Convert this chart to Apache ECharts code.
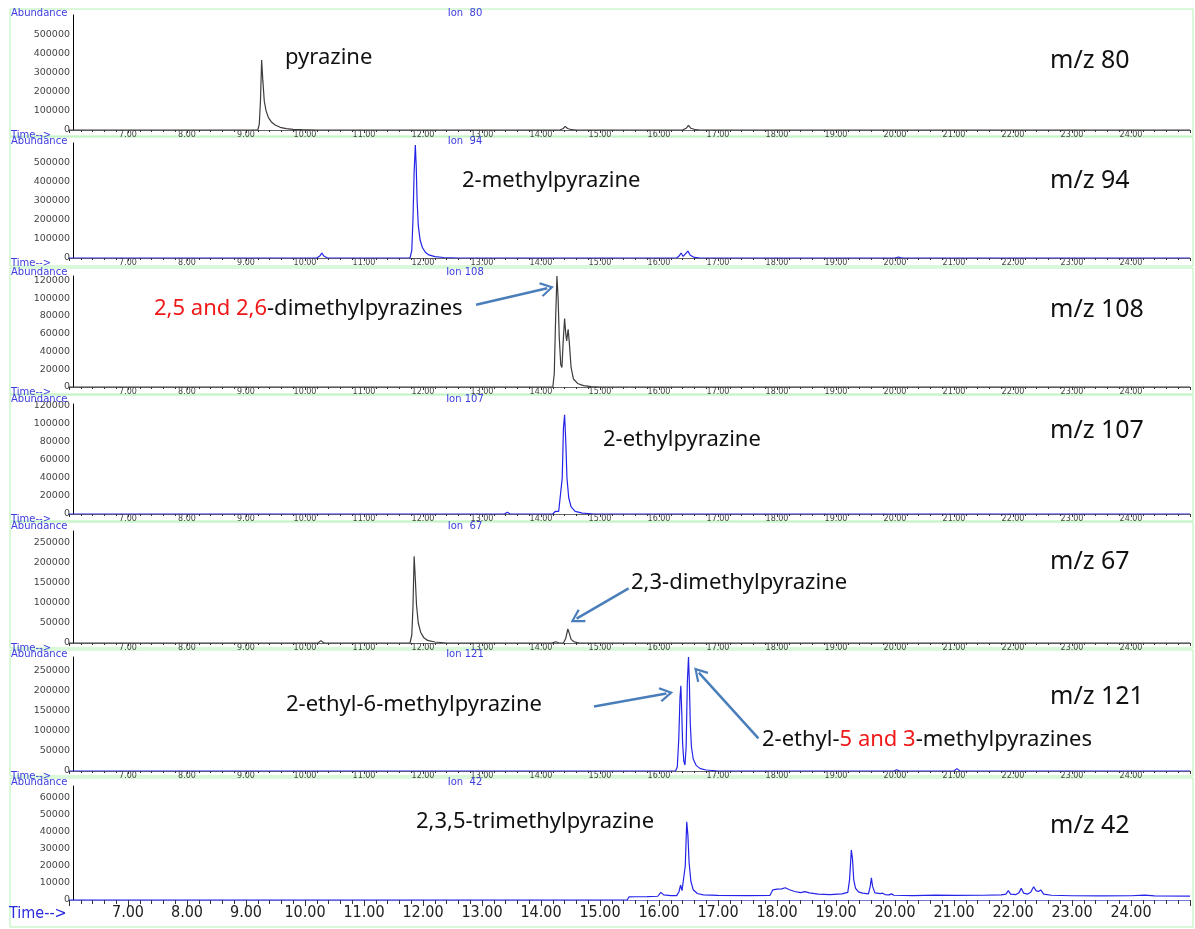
<!DOCTYPE html>
<html><head><meta charset="utf-8">
<script src="https://cdn.jsdelivr.net/npm/echarts@6/dist/echarts.min.js"></script>
<style>html,body{margin:0;padding:0;background:#fff}#c{width:1195px;height:929px}</style>
</head><body><div id="c"></div>
<script>
// ---------------- data ----------------
const ionLabels = ['Ion  80', 'Ion  94', 'Ion 108', 'Ion 107', 'Ion  67', 'Ion 121', 'Ion  42'];
const mzLabels = ['m/z 80', 'm/z 94', 'm/z 108', 'm/z 107', 'm/z 67', 'm/z 121', 'm/z 42'];
const yMax = [600000, 600000, 125000, 122000, 280000, 285000, 67000];
const yStep = [100000, 100000, 20000, 20000, 50000, 50000, 10000];
const timeMin = 6, timeMax = 25, timeStep = 1;

const ion80 = [[6,0],[9.20,0],[9.225,30000],[9.245,150000],[9.265,365000],[9.285,260000],[9.31,150000],[9.34,100000],[9.38,65000],[9.43,42000],[9.50,25000],[9.58,14000],[9.68,7000],[9.80,3500],[9.95,1500],[10.2,0],
  [14.32,0],[14.38,8000],[14.41,19000],[14.45,8000],[14.52,1500],[14.6,0],
  [16.40,0],[16.46,9000],[16.50,24000],[16.54,9000],[16.62,1500],[16.7,0],[25,0]];
const ion94 = [[6,0],[10.20,0],[10.25,10000],[10.285,26000],[10.32,10000],[10.38,0],
  [11.78,0],[11.81,40000],[11.83,200000],[11.85,450000],[11.87,590000],[11.885,480000],[11.90,300000],[11.92,170000],[11.95,95000],[11.99,55000],[12.04,30000],[12.10,16000],[12.2,7000],[12.35,2500],[12.6,0],
  [16.30,0],[16.345,12000],[16.375,26000],[16.41,8000],[16.44,12000],[16.49,36000],[16.53,14000],[16.6,3000],[16.7,0],
  [20.0,0],[20.06,5000],[20.12,0],[25,0]];
const ion108 = [[6,0],[14.20,0],[14.225,15000],[14.245,70000],[14.27,125000],[14.29,100000],[14.31,55000],[14.335,25000],[14.355,22000],[14.375,50000],[14.40,77000],[14.42,60000],[14.435,52000],[14.46,65000],[14.48,50000],[14.51,22000],[14.55,9000],[14.62,4000],[14.72,1500],[14.85,500],[15.0,0],[25,0]];
const ion107 = [[6,0],[13.38,0],[13.43,2000],[13.48,0],[14.20,0],[14.245,3000],[14.27,5200],[14.30,3000],[14.33,4000],[14.36,40000],[14.38,95000],[14.40,110000],[14.42,80000],[14.44,40000],[14.47,18000],[14.51,8000],[14.58,3000],[14.7,1000],[14.9,0],[25,0]];
const ion67 = [[6,0],[10.22,0],[10.27,6000],[10.32,0],
  [11.78,0],[11.81,20000],[11.83,90000],[11.85,217000],[11.87,160000],[11.89,95000],[11.92,50000],[11.96,27000],[12.01,14000],[12.08,6500],[12.2,2500],[12.4,0],
  [14.18,0],[14.25,3000],[14.31,0],[14.38,0],[14.42,12000],[14.455,35000],[14.48,24000],[14.51,9000],[14.56,3000],[14.65,0],[25,0]];
const ion121 = [[6,0],[16.28,0],[16.31,10000],[16.335,80000],[16.355,180000],[16.37,213000],[16.385,150000],[16.40,70000],[16.42,25000],[16.44,15000],[16.46,60000],[16.48,220000],[16.50,285000],[16.515,220000],[16.53,120000],[16.55,60000],[16.58,30000],[16.63,14000],[16.7,6000],[16.8,2500],[17.0,0],
  [19.98,0],[20.03,3000],[20.08,0],[21.0,0],[21.05,6000],[21.1,0],[25,0]];
const ion42 = [[6,0],[15.46,0],[15.49,1800],[15.6,1900],[15.8,2000],[15.98,2200],[16.03,4500],[16.08,3000],[16.2,2600],[16.3,2600],[16.34,5000],[16.365,8800],[16.39,5500],[16.42,4500],[16.445,20000],[16.47,46000],[16.49,38000],[16.51,22000],[16.54,11000],[16.58,6000],[16.65,3800],[16.75,3000],[17.0,2700],[17.5,2600],[17.88,2700],[17.93,6000],[18.0,6400],[18.08,6500],[18.14,7200],[18.2,6200],[18.3,5000],[18.4,4300],[18.47,4900],[18.55,4200],[18.7,3500],[18.9,3200],[19.1,3600],[19.2,4500],[19.23,12000],[19.26,29400],[19.28,24000],[19.30,12000],[19.33,7000],[19.38,4800],[19.45,4000],[19.55,3600],[19.58,8000],[19.60,13100],[19.62,8000],[19.66,4200],[19.75,3800],[19.79,4000],[19.83,3200],[19.90,3000],[19.94,3600],[19.98,2800],[20.3,2600],[20.7,2900],[21.0,2700],[21.5,2800],[21.8,3000],[21.88,3500],[21.92,5500],[21.96,3500],[22.05,3200],[22.1,4200],[22.14,6900],[22.18,4000],[22.25,3500],[22.3,4500],[22.35,7800],[22.39,5500],[22.43,5000],[22.47,5900],[22.52,3500],[22.65,2800],[23.0,2500],[23.5,2400],[24.0,2500],[24.23,2900],[24.4,2400],[25.0,2300]];

const traces = [ion80, ion94, ion108, ion107, ion67, ion121, ion42];
const traceColors = ['#3c3c3c', '#2424e8', '#3c3c3c', '#2424e8', '#3c3c3c', '#2424e8', '#2424e8'];

// annotation arrows, in data coordinates of their panel
const arrows = [
  {panel: 2, from: [12.90, 92600], to: [14.105, 111160]},
  {panel: 4, from: [15.485, 136750], to: [14.603, 60750]},
  {panel: 5, from: [14.898, 161250], to: [16.125, 193500]},
  {panel: 5, from: [17.685, 81750], to: [16.675, 245750]}
];

// compound labels
const compoundTexts = [
  {text: '{k|pyrazine}', x: 285, y: 58},
  {text: '{k|2-methylpyrazine}', x: 462, y: 181},
  {text: '{r|2,5 and 2,6}{k|-dimethylpyrazines}', x: 154, y: 309},
  {text: '{k|2-ethylpyrazine}', x: 603, y: 440},
  {text: '{k|2,3-dimethylpyrazine}', x: 631, y: 583},
  {text: '{k|2-ethyl-6-methylpyrazine}', x: 286, y: 705},
  {text: '{k|2-ethyl-}{r|5 and 3}{k|-methylpyrazines}', x: 762, y: 740},
  {text: '{k|2,3,5-trimethylpyrazine}', x: 416, y: 822}
];

// ---------------- layout ----------------
const gridTop = [15, 143, 276, 404, 531, 657, 786];
const gridZero = [130, 258, 387, 514, 643, 771, 900];
const frameTop = [9, 137, 268, 395, 522, 650, 778];
const frameBottom = [136, 266, 394, 521, 648, 776, 927];
const mzY = [61, 181, 310, 431, 562, 697, 826];
const gridLeft = 69, gridWidth = 1121;

const chevron = 'path://M10,0 L20,15 L17.6,16.6 L10,5 L2.4,16.6 L0,15 Z';
const small = 'DejaVu Sans';
const narrow = '"Liberation Sans Narrow", "DejaVu Sans Condensed", sans-serif';

const grids = [], xAxes = [], yAxes = [], series = [], graphics = [];
for (let i = 0; i < 7; i++) {
  const last = i === 6;
  grids.push({left: gridLeft, width: gridWidth, top: gridTop[i], height: gridZero[i] - gridTop[i]});
  xAxes.push({
    type: 'value', gridIndex: i, min: timeMin, max: timeMax, interval: timeStep,
    axisLine: {show: true, onZero: false, lineStyle: {color: last ? '#7a7ad8' : '#666', width: 1}},
    axisTick: {show: true, length: last ? 6 : 3, lineStyle: {color: '#333'}},
    minorTick: {show: true, splitNumber: 5, length: last ? 4 : 2, lineStyle: {color: '#333'}},
    splitLine: {show: false},
    axisLabel: {
      show: true, showMinLabel: false, showMaxLabel: false,
      formatter: v => v.toFixed(2),
      fontFamily: last ? narrow : small, fontSize: last ? 16 : 8,
      color: last ? '#222' : '#444', margin: last ? 5 : 1
    }
  });
  yAxes.push({
    type: 'value', gridIndex: i, min: 0, max: yMax[i], interval: yStep[i], offset: -4,
    axisLine: {show: true, lineStyle: {color: '#000', width: 1}},
    axisTick: {show: false},
    splitLine: {show: false},
    axisLabel: {showMaxLabel: false, formatter: v => String(v), fontFamily: small, fontSize: 9.5, color: '#444', margin: 3}
  });
  const s = {
    type: 'line', xAxisIndex: i, yAxisIndex: i, data: traces[i],
    showSymbol: false, symbol: 'none', smooth: false,
    lineStyle: {color: traceColors[i], width: 1.2},
    z: 3
  };
  const myArrows = arrows.filter(a => a.panel === i);
  if (myArrows.length) {
    s.markLine = {
      silent: true, animation: false,
      symbol: ['none', chevron], symbolSize: [15, 14],
      lineStyle: {color: '#4a7ebb', width: 2.5, type: 'solid'},
      label: {show: false},
      data: myArrows.map(a => [{coord: a.from}, {coord: a.to}])
    };
  }
  series.push(s);

  // frames and small header texts
  graphics.push({type: 'rect', z: 0, silent: true,
    shape: {x: 10, y: frameTop[i], width: 1183, height: frameBottom[i] - frameTop[i]},
    style: {fill: 'none', stroke: '#b4f0b4', lineWidth: 1}});
  graphics.push({type: 'text', z: 10, silent: true,
    style: {text: 'Abundance', x: 11, y: frameTop[i] + 4, fill: '#3c3ce0', font: '10px "DejaVu Sans"', verticalAlign: 'middle'}});
  graphics.push({type: 'text', z: 10, silent: true,
    style: {text: ionLabels[i], x: 465, y: frameTop[i] + 4, fill: '#3c3ce0', font: '10px "DejaVu Sans"', align: 'center', verticalAlign: 'middle'}});
  graphics.push({type: 'text', z: 10, silent: true,
    style: last
      ? {text: 'Time-->', x: 9, y: gridZero[i] + 14, fill: '#2a2ae0', font: '16px ' + narrow, verticalAlign: 'middle'}
      : {text: 'Time-->', x: 11, y: gridZero[i] + 5, fill: '#3c3ce0', font: '10px "DejaVu Sans"', verticalAlign: 'middle'}});
  graphics.push({type: 'text', z: 10, silent: true,
    style: {text: mzLabels[i], x: 1050, y: mzY[i], fill: '#111', font: '25px "Noto Sans"', verticalAlign: 'middle'}});
}
compoundTexts.forEach(t => {
  graphics.push({type: 'text', z: 10, silent: true,
    style: {text: t.text, x: t.x, y: t.y, verticalAlign: 'middle',
      rich: {
        k: {fill: '#111', color: '#111', fontSize: 22, fontFamily: 'Noto Sans'},
        r: {fill: '#f01818', color: '#f01818', fontSize: 22, fontFamily: 'Noto Sans'}
      }}});
});

const chart = echarts.init(document.getElementById('c'), null, {renderer: 'canvas'});
chart.setOption({
  animation: false,
  backgroundColor: '#fff',
  grid: grids, xAxis: xAxes, yAxis: yAxes, series: series,
  graphic: {elements: graphics}
});
</script></body></html>
